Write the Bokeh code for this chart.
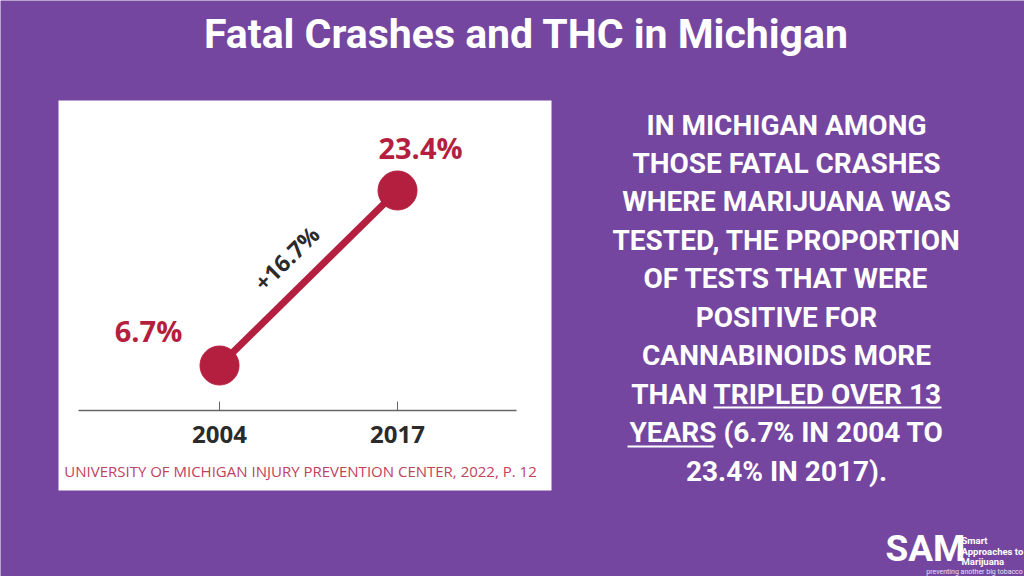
from bokeh.plotting import figure
from bokeh.models import Range1d, FixedTicker, Label, BoxAnnotation
from bokeh.embed import file_html
from bokeh.resources import INLINE
import math

# ---- data ----
years = [2004, 2017]
values = [6.7, 23.4]
tick_labels = {2004: "2004", 2017: "2017"}
title_text = "Fatal Crashes and THC in Michigan"
source_text = "UNIVERSITY OF MICHIGAN INJURY PREVENTION CENTER, 2022, P. 12"
paragraph = [
    "IN MICHIGAN AMONG",
    "THOSE FATAL CRASHES",
    "WHERE MARIJUANA WAS",
    "TESTED, THE PROPORTION",
    "OF TESTS THAT WERE",
    "POSITIVE FOR",
    "CANNABINOIDS MORE",
    "THAN TRIPLED OVER 13",
    "YEARS (6.7% IN 2004 TO",
    "23.4% IN 2017).",
]
logo_big = "SAM"
logo_small = ["Smart", "Approaches to", "Marijuana"]
logo_tag = "preventing another big tobacco"

# ---- style ----
PURPLE = "#7446a0"
CRIMSON = "#b51f3f"
DARK = "#2b2b2b"
W, H = 1024, 576


def sy(page_y):
    return H - page_y


p = figure(width=W, height=H, output_backend="svg", toolbar_location=None,
           x_range=Range1d(1988.005, 2062.79), y_range=Range1d(-13.435, 41.531),
           y_axis_location=None, min_border=0)
p.background_fill_color = PURPLE
p.border_fill_color = PURPLE
p.outline_line_color = None
p.grid.visible = False

# white chart panel
p.add_layout(BoxAnnotation(left=58, right=551, bottom=sy(490), top=sy(100),
                           left_units="screen", right_units="screen",
                           bottom_units="screen", top_units="screen",
                           fill_color="white", fill_alpha=1, line_color=None,
                           level="underlay"))

# x axis inside the panel
ax = p.xaxis[0]
ax.fixed_location = 2.41
ax.bounds = (1993.7, 2025.7)
ax.ticker = FixedTicker(ticks=years)
ax.major_label_overrides = tick_labels
ax.minor_tick_line_color = None
ax.major_tick_in = 9
ax.major_tick_out = 0
ax.major_tick_line_color = "#666666"
ax.axis_line_color = "#666666"
ax.axis_line_width = 1.5
ax.major_label_standoff = 16
ax.major_label_text_font = "Open Sans"
ax.major_label_text_font_style = "bold"
ax.major_label_text_font_size = "24px"
ax.major_label_text_color = DARK

# data line & points
p.line(years, values, line_color=CRIMSON, line_width=7)
p.scatter(years, values, size=39, fill_color=CRIMSON, line_color=CRIMSON)

# value labels
offsets = [(-71, 35), (23, 43)]
for yr, v, (dx, dy) in zip(years, values, offsets):
    p.add_layout(Label(x=yr, y=v, x_offset=dx, y_offset=dy, text=f"{v}%",
                       text_align="center", text_baseline="middle",
                       text_font="Open Sans", text_font_style="bold",
                       text_font_size="29px", text_color=CRIMSON))

# change label along the line
diff = values[1] - values[0]
ang = math.atan2(175, 178)
p.add_layout(Label(x=(years[0] + years[1]) / 2, y=(values[0] + values[1]) / 2,
                   x_offset=-22, y_offset=20, angle=ang, text=f"+{diff:.1f}%",
                   text_align="center", text_baseline="middle",
                   text_font="Open Sans", text_font_style="bold",
                   text_font_size="23px", text_color=DARK))

# source
p.add_layout(Label(x=300, y=sy(470), x_units="screen", y_units="screen", text=source_text,
                   text_align="center", text_baseline="middle",
                   text_font="Open Sans", text_font_size="15px", text_color="#c0425d"))

# title
p.add_layout(Label(x=526, y=sy(33), x_units="screen", y_units="screen", text=title_text,
                   text_align="center", text_baseline="middle",
                   text_font="Roboto", text_font_style="bold",
                   text_font_size="41px", text_color="white"))

# paragraph
line_ys = [125, 163, 201, 240, 278, 317, 355, 394, 432, 471]
for t, yy in zip(paragraph, line_ys):
    p.add_layout(Label(x=786, y=sy(yy), x_units="screen", y_units="screen", text=t,
                       text_align="center", text_baseline="middle",
                       text_font="Roboto", text_font_style="bold",
                       text_font_size="28px", text_color="white"))
# underlines
for (l, r, yy) in [(713, 941, 407), (627, 713, 446)]:
    p.add_layout(BoxAnnotation(left=l, right=r, bottom=sy(yy) - 1, top=sy(yy) + 1,
                               left_units="screen", right_units="screen",
                               bottom_units="screen", top_units="screen",
                               fill_color="white", fill_alpha=1, line_color=None))

# logo
p.add_layout(Label(x=925, y=sy(548), x_units="screen", y_units="screen", text=logo_big,
                   text_align="center", text_baseline="middle",
                   text_font="Roboto", text_font_style="bold",
                   text_font_size="37px", text_color="white"))
for t, yy in zip(logo_small, [540, 551, 561]):
    p.add_layout(Label(x=961, y=sy(yy), x_units="screen", y_units="screen", text=t,
                       text_align="left", text_baseline="middle",
                       text_font="Roboto", text_font_style="bold",
                       text_font_size="9.5px", text_color="white"))
p.add_layout(Label(x=974, y=sy(571), x_units="screen", y_units="screen", text=logo_tag,
                   text_align="center", text_baseline="middle",
                   text_font="Roboto",
                   text_font_size="7px", text_color="#e8e0f0"))

html = file_html(p, INLINE)
html = html.replace("<body>", f'<body style="margin:0;background-color:{PURPLE};">', 1)
open("out.html", "w").write(html)
